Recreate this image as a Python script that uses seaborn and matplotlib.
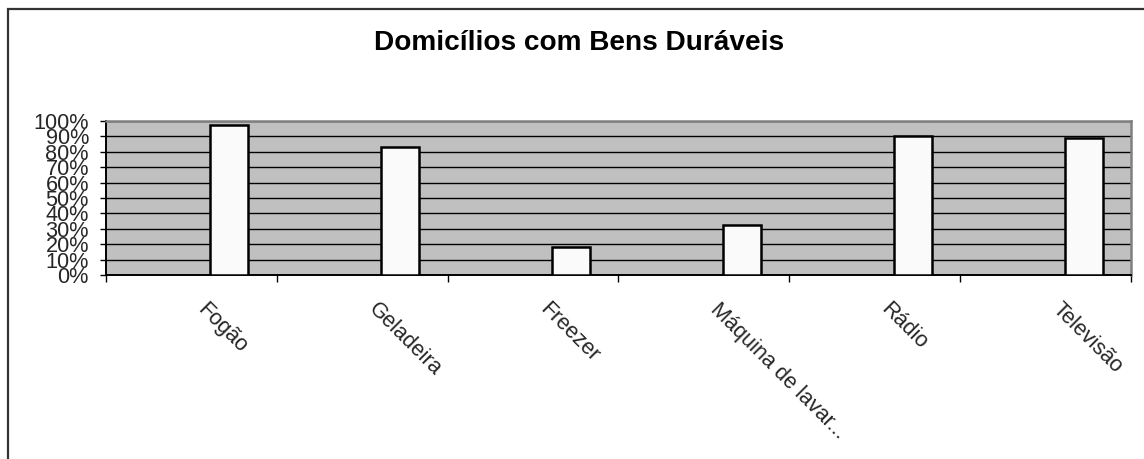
import matplotlib
matplotlib.use("Agg")
import matplotlib.pyplot as plt
import matplotlib.patches as mpatches
import matplotlib.transforms as mtransforms
from matplotlib.ticker import FuncFormatter, FixedLocator
import seaborn as sns
import pandas as pd
import numpy as np

# dados
bens = ["Fogão", "Geladeira", "Freezer", "Máquina de lavar...", "Rádio", "Televisão"]
percentual = [0.972, 0.829, 0.184, 0.325, 0.90, 0.892]
# o Excel tinha 3 series por categoria, so a terceira com valores
series = ["s1", "s2", "s3"]

df = pd.DataFrame({"bem": bens, "valor": percentual, "serie": "s3"})

sns.set_theme(style="white")
plt.rcParams['font.family'] = ['Liberation Sans', 'DejaVu Sans']

fig = plt.figure(figsize=(11.44, 4.59), dpi=100)
W, H = 1144, 459
ax = fig.add_axes([106 / W, 1 - 275 / H, (1131 - 106) / W, (275 - 121) / H])
ax.set_facecolor("#c0c0c0")

sns.barplot(data=df, x="bem", y="valor", hue="serie", hue_order=series,
            order=bens, width=0.667, dodge=True, palette=["#fafafa"] * 3,
            edgecolor="black", linewidth=1.8, saturation=1, legend=False,
            ax=ax, zorder=3)

ax.set_ylim(0, 1)
ax.set_xlim(-0.5, len(bens) - 0.5)
ax.set_yticks(np.arange(0, 1.01, 0.1))
ax.yaxis.set_major_formatter(FuncFormatter(lambda v, p: f"{v:.0%}"))
ax.grid(axis="y", color="black", linewidth=1.0, zorder=1)
ax.set_axisbelow(True)
ax.set_xlabel("")
ax.set_ylabel("")

ax.tick_params(axis="y", direction="out", length=4.3, width=1, color="black",
               labelsize=15.6, pad=8, left=True)
ax.xaxis.set_minor_locator(FixedLocator(np.arange(-0.5, len(bens), 1.0)))
ax.tick_params(axis="x", which="minor", direction="out", length=5, width=1,
               color="black", bottom=True)
ax.tick_params(axis="x", which="major", length=0, labelsize=15.6, pad=0)

offset = mtransforms.ScaledTranslation(17 / 100, -24 / 100, fig.dpi_scale_trans)
for lab in ax.get_xticklabels():
    lab.set_rotation(-45)
    lab.set_ha("left")
    lab.set_va("top")
    lab.set_rotation_mode("anchor")
    lab.set_transform(lab.get_transform() + offset)

for s in ["top", "right"]:
    ax.spines[s].set_color("#808080")
    ax.spines[s].set_linewidth(1.8)
for s in ["left", "bottom"]:
    ax.spines[s].set_color("black")
    ax.spines[s].set_linewidth(1.4)

fig.text(579 / W, 1 - 43 / H, "Domicílios com Bens Duráveis", ha="center",
         va="center", fontsize=20.2, fontweight="bold", color="black")

# borda externa do grafico (continua fora da imagem)
borda = mpatches.Rectangle((8 / W, -0.2), 1.2, 1 - 9 / H + 0.2,
                           transform=fig.transFigure, fill=False,
                           edgecolor="#333333", linewidth=1.6, clip_on=False)
fig.add_artist(borda)

fig.savefig("out.png", dpi=100)
